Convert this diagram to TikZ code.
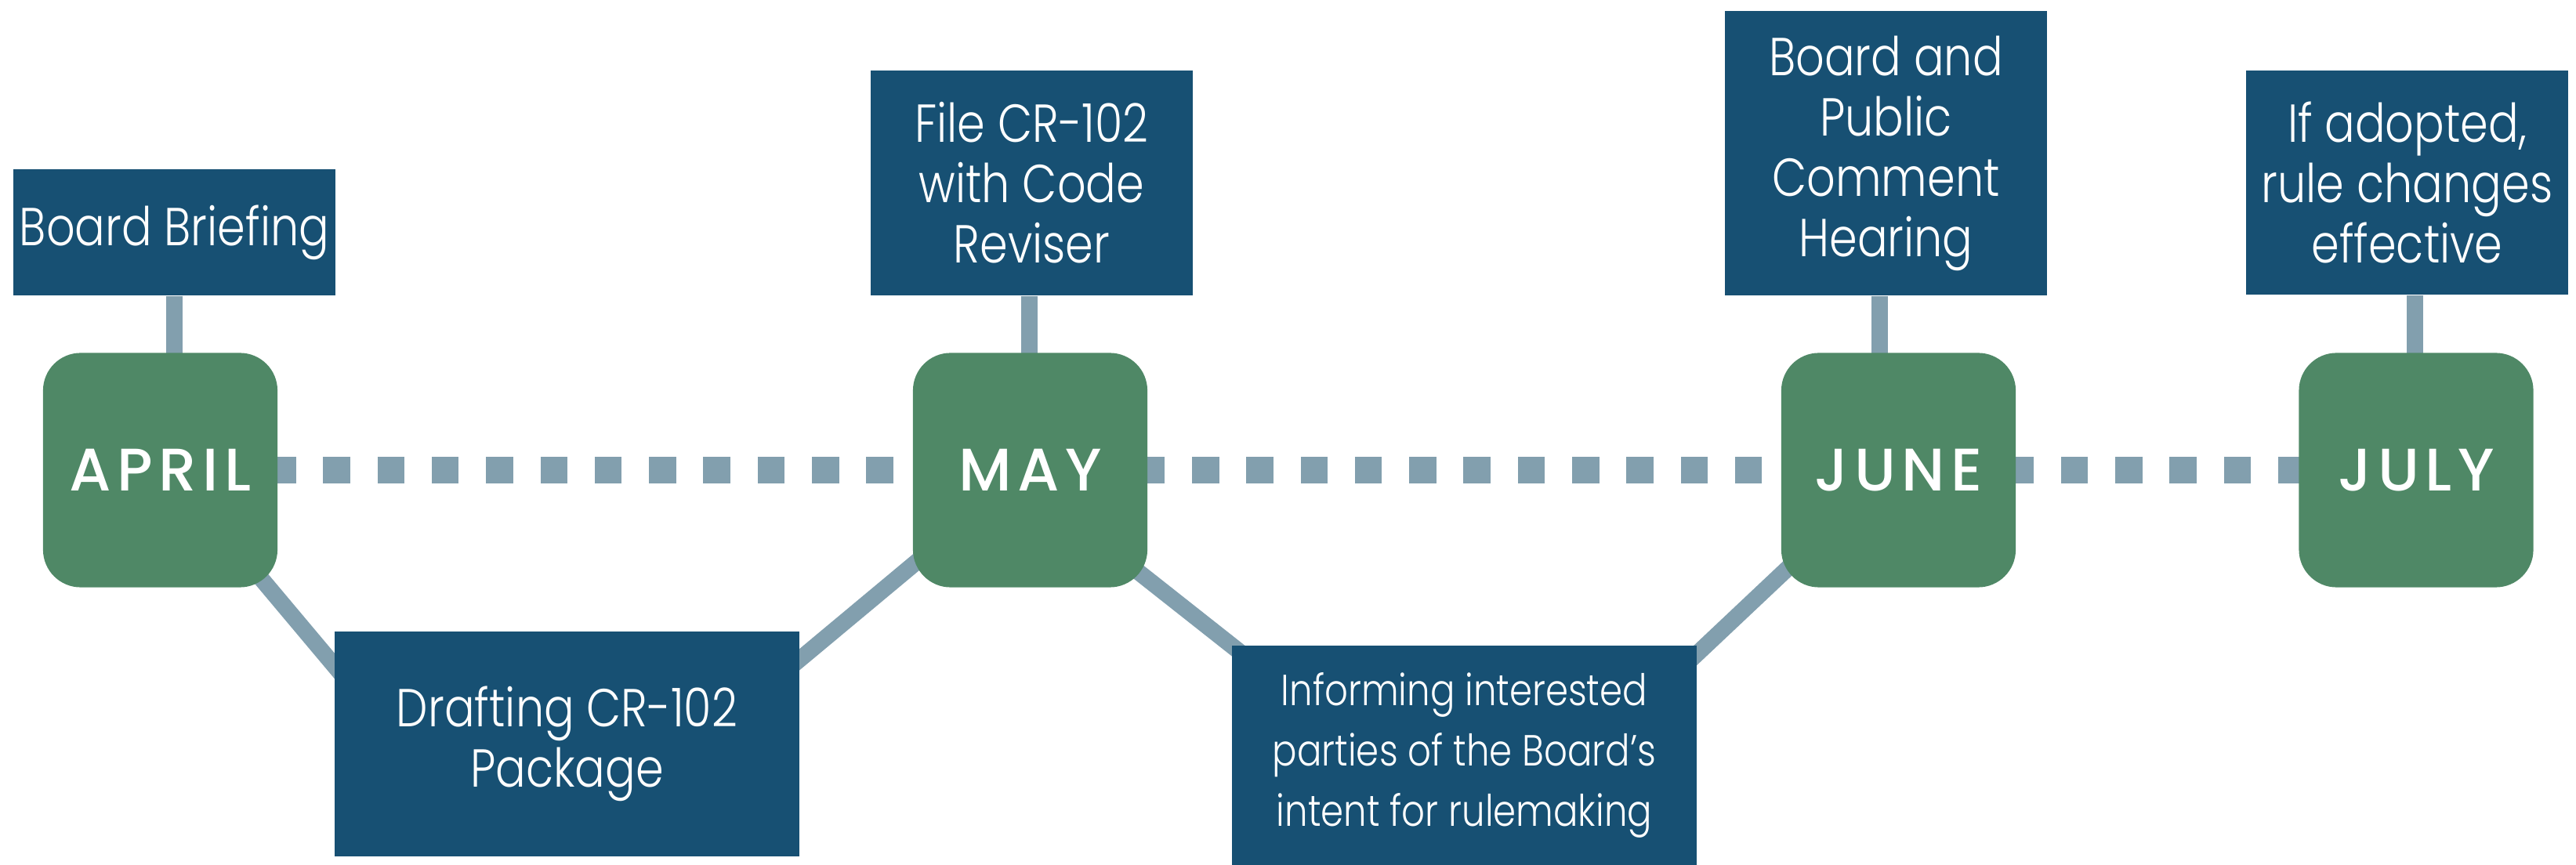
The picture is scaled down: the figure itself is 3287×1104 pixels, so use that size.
\documentclass[tikz,border=0pt]{standalone}
\usepackage{fontspec}
\newfontfamily\boxfont{Poppins Light}[FakeStretch=0.84]
\newfontfamily\monthfont{Poppins Medium}[LetterSpace=10]
\usetikzlibrary{calc,backgrounds}
\definecolor{navy}{HTML}{175073}
\definecolor{leaf}{HTML}{4F8866}
\definecolor{steel}{HTML}{829FAE}
\tikzset{
  infobox/.style={fill=navy, text=white, inner sep=0pt, align=center,
    minimum width=4.11cm, font={\boxfont\fontsize{19.4pt}{21.9pt}\selectfont}},
  widebox/.style={infobox, minimum width=5.93cm},
  monthbox/.style={fill=leaf, text=white, rounded corners=0.48cm, inner sep=0pt,
    minimum width=2.99cm, minimum height=2.99cm,
    font={\monthfont\fontsize{21.8pt}{24pt}\selectfont}},
  link/.style={draw=steel, line width=0.21cm},
  track/.style={draw=steel, line width=0.34cm, dash pattern=on 0.345cm off 0.3475cm}
}
\begin{document}
\begin{tikzpicture}[x=0.01cm, y=-0.01cm]
\useasboundingbox (0,0) rectangle (3287,1104);

% month milestones
\node[monthbox] (april) at (204.5,600) {APRIL};
\node[monthbox] (may)   at (1314.5,600) {MAY};
\node[monthbox] (june)  at (2422.5,600) {JUNE};
\node[monthbox] (july)  at (3083,600) {JULY};

% events above the timeline
\node[infobox, minimum height=1.61cm] (brief) at (222.5,296.5) {Board Briefing};
\node[infobox, minimum height=2.87cm] (file) at (1316.5,233.5) {File CR-102\\with Code\\Reviser};
\node[infobox, minimum height=3.63cm] (hear) at (2406.5,195.5) {Board and\\Public\\Comment\\Hearing};
\node[infobox, minimum height=2.86cm] (adopt) at (3071.5,233) {If adopted,\\rule changes\\effective};

% activities below the timeline
\node[widebox, minimum height=2.87cm] (draft) at (723.5,949.5) {Drafting CR-102\\Package};
\node[widebox, minimum height=2.80cm,
  font={\boxfont\fontsize{15.8pt}{21.9pt}\selectfont}] (inform) at (1868.5,964)
  {Informing interested\\parties of the Board’s\\intent for rulemaking};

\begin{scope}[on background layer]
  % dotted timeline
  \draw[track] (april.center) -- (july.center);
  % stems to the events above
  \draw[link] (brief.south) -- (brief.south |- april.center);
  \draw[link] ($(file.south)+(-3.5,0)$) -- ($(file.south |- may.center)+(-3.5,0)$);
  \draw[link] ($(hear.south)+(-8.5,0)$) -- ($(hear.south |- june.center)+(-8.5,0)$);
  \draw[link] ($(adopt.south)+(9.5,0)$) -- ($(adopt.south |- july.center)+(9.5,0)$);
  % zig-zag to the activities below
  \draw[link] ($(april.center)+(12.5,0)$) -- ($(draft.center)+(-213,0)$);
  \draw[link] ($(may.center)+(-4.5,0)$) -- ($(draft.center)+(167.5,0)$);
  \draw[link] ($(may.center)+(-26.5,0)$) -- ($(inform.center)+(-119.5,0)$);
  \draw[link] ($(june.center)+(-8.5,0)$) -- ($(inform.center)+(159.5,0)$);
\end{scope}
\end{tikzpicture}
\end{document}
